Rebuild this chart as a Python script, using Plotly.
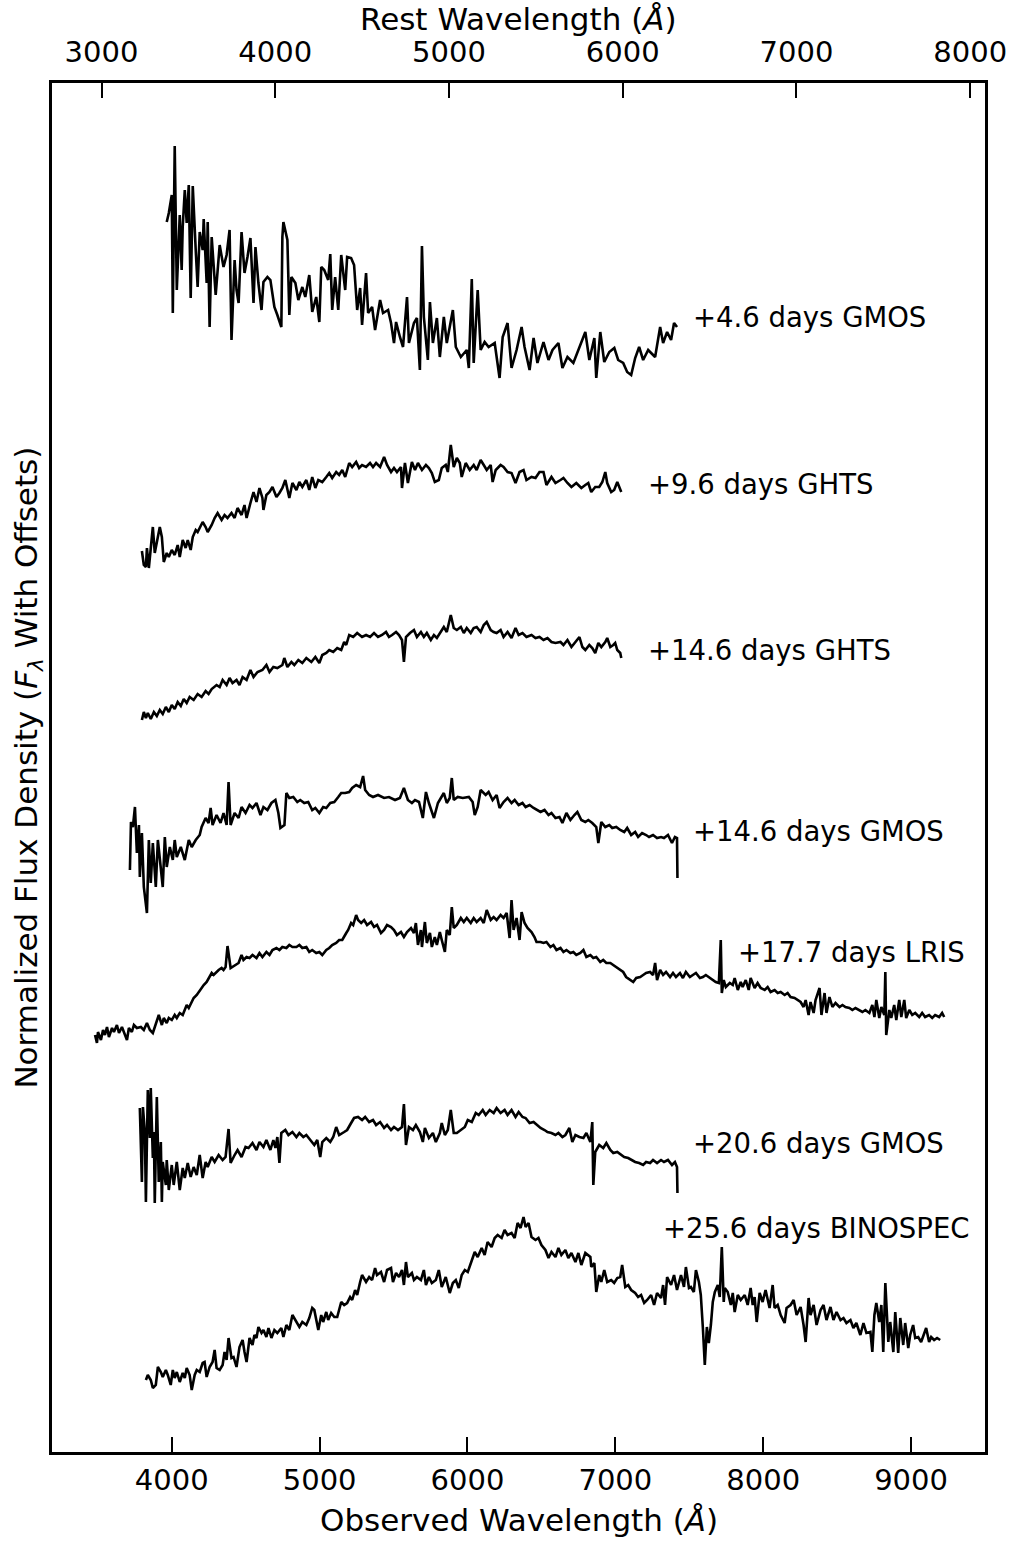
import plotly.graph_objects as go

# ---------------- data ----------------
REDSHIFT = 0.175
OBS_TICKS = [4000, 5000, 6000, 7000, 8000, 9000]
REST_TICKS = [3000, 4000, 5000, 6000, 7000, 8000]
LABELS = ["+4.6 days GMOS", "+9.6 days GHTS", "+14.6 days GHTS", "+14.6 days GMOS",
          "+17.7 days LRIS", "+20.6 days GMOS", "+25.6 days BINOSPEC"]
OFFSETS = [10, 8, 7, 5, 3.5, 2, 0]

# (observed wavelength [A], normalized flux)
SPEC_1 = [(3966,2.30),(3980,2.39),(4000,2.57),(4007,1.39),(4020,3.06),(4034,1.62),(4054,2.37),(4067,1.82),(4074,2.25),(4088,2.62),
(4101,2.29),(4115,2.67),(4128,1.54),(4142,2.66),(4162,2.02),(4175,1.65),(4189,2.20),(4209,2.02),(4216,2.33),(4236,1.69),
(4243,2.30),(4256,1.25),(4270,2.15),(4297,1.57),(4324,2.07),(4350,1.85),(4371,1.97),(4391,2.22),(4404,1.12),(4425,1.92),
(4438,1.62),(4452,1.49),(4472,2.20),(4492,1.79),(4512,1.95),(4532,2.14),(4553,1.49),(4566,2.05),(4586,1.69),(4607,1.42),
(4620,1.70),(4647,1.75),(4667,1.72),(4694,1.45),(4714,1.37),(4741,1.25),(4748,2.15),(4755,2.30),(4782,2.12),(4795,1.37),
(4809,1.75),(4836,1.69),(4856,1.52),(4883,1.65),(4903,1.55),(4930,1.77),(4950,1.40),(4977,1.55),(4998,1.30),(5011,1.85),
(5031,1.82),(5058,1.72),(5072,1.98),(5085,1.42),(5105,1.75),(5126,1.42),(5146,1.97),(5173,1.62),(5186,1.95),(5213,1.94),
(5233,1.87),(5254,1.42),(5274,1.64),(5287,1.27),(5314,1.79),(5328,1.39),(5355,1.45),(5375,1.22),(5409,1.52),(5429,1.39),
(5463,1.42),(5483,1.29),(5503,1.09),(5517,1.30),(5543,1.15),(5564,1.05),(5591,1.55),(5604,1.09),(5638,1.29),(5658,1.34),
(5678,0.82),(5692,2.06),(5705,1.35),(5732,0.92),(5746,1.50),(5766,1.09),(5793,1.34),(5813,0.95),(5840,1.35),(5860,1.09),
(5901,1.42),(5921,1.05),(5955,0.95),(5995,1.02),(6009,0.84),(6029,1.73),(6042,0.89),(6069,1.62),(6089,1.02),(6116,1.10),
(6143,1.05),(6184,1.09),(6217,0.74),(6238,1.15),(6271,1.29),(6298,0.84),(6332,1.02),(6366,1.25),(6386,1.05),(6420,0.82),
(6447,1.14),(6473,0.89),(6514,1.10),(6548,0.92),(6575,1.02),(6615,1.09),(6642,0.84),(6676,0.95),(6716,0.89),(6750,1.02),
(6797,1.20),(6824,0.92),(6858,1.14),(6871,0.74),(6898,1.20),(6925,0.90),(6959,1.00),(6993,1.04),(7019,0.92),(7053,0.89),
(7080,0.80),(7107,0.77),(7134,0.94),(7161,1.05),(7188,0.92),(7222,1.02),(7269,0.95),(7303,1.25),(7323,1.09),(7350,1.20),
(7377,1.12),(7397,1.29),(7417,1.25)]

SPEC_2 = [(3798,1.01),(3811,0.87),(3825,0.85),(3832,1.04),(3845,0.84),(3865,1.12),(3872,1.25),(3885,0.99),(3899,1.09),(3919,1.25),
(3933,1.15),(3946,0.90),(3966,0.99),(3980,0.95),(4000,1.02),(4020,0.97),(4040,1.07),(4054,0.95),(4074,1.12),(4094,1.04),
(4108,1.12),(4128,1.02),(4142,1.15),(4162,1.22),(4175,1.20),(4195,1.27),(4209,1.30),(4229,1.25),(4243,1.20),(4270,1.27),
(4290,1.34),(4310,1.39),(4337,1.32),(4357,1.37),(4377,1.34),(4404,1.39),(4425,1.34),(4445,1.44),(4472,1.37),(4492,1.47),
(4506,1.34),(4532,1.49),(4553,1.60),(4573,1.50),(4593,1.64),(4613,1.54),(4620,1.42),(4640,1.57),(4661,1.60),(4681,1.65),
(4708,1.55),(4728,1.59),(4748,1.64),(4768,1.72),(4782,1.64),(4795,1.54),(4816,1.69),(4843,1.62),(4863,1.70),(4883,1.65),
(4910,1.72),(4930,1.62),(4950,1.75),(4971,1.64),(4991,1.72),(5018,1.70),(5045,1.75),(5065,1.79),(5085,1.74),(5112,1.80),
(5132,1.77),(5153,1.82),(5173,1.75),(5200,1.89),(5220,1.85),(5247,1.90),(5267,1.84),(5287,1.87),(5314,1.85),(5341,1.89),
(5361,1.85),(5382,1.89),(5409,1.85),(5436,1.95),(5456,1.87),(5483,1.80),(5503,1.84),(5523,1.80),(5550,1.85),(5557,1.64),
(5577,1.89),(5597,1.69),(5624,1.90),(5645,1.82),(5665,1.89),(5692,1.82),(5719,1.87),(5739,1.84),(5759,1.79),(5779,1.70),
(5806,1.72),(5826,1.84),(5853,1.87),(5867,1.80),(5887,2.07),(5907,1.85),(5928,1.94),(5948,1.89),(5961,1.75),(5988,1.89),
(6015,1.82),(6042,1.87),(6062,1.82),(6089,1.92),(6110,1.87),(6130,1.82),(6157,1.87),(6170,1.70),(6191,1.82),(6224,1.87),
(6244,1.85),(6271,1.80),(6298,1.79),(6325,1.69),(6352,1.80),(6379,1.82),(6399,1.72),(6433,1.75),(6460,1.74),(6487,1.80),
(6514,1.80),(6534,1.67),(6568,1.75),(6595,1.69),(6629,1.72),(6649,1.74),(6676,1.69),(6703,1.65),(6736,1.69),(6770,1.64),
(6797,1.67),(6817,1.69),(6837,1.60),(6864,1.65),(6891,1.65),(6912,1.70),(6932,1.80),(6945,1.69),(6972,1.60),(6992,1.62),
(7013,1.70),(7040,1.60)]

SPEC_3 = [(3798,0.32),(3811,0.40),(3825,0.34),(3838,0.39),(3858,0.33),(3879,0.40),(3899,0.36),(3919,0.42),(3939,0.38),(3960,0.45),
(3980,0.40),(4000,0.47),(4020,0.43),(4040,0.50),(4061,0.46),(4081,0.53),(4101,0.49),(4121,0.55),(4148,0.52),(4175,0.58),
(4202,0.55),(4229,0.61),(4249,0.58),
(4270,0.63),(4303,0.67),(4324,0.65),(4344,0.72),(4371,0.67),(4391,0.74),(4411,0.69),(4438,0.72),(4458,0.67),(4479,0.75),
(4506,0.72),(4532,0.82),(4553,0.75),(4580,0.80),(4613,0.82),(4640,0.87),(4661,0.80),(4687,0.85),(4714,0.84),(4748,0.87),
(4761,0.94),(4782,0.85),(4809,0.90),(4829,0.87),(4856,0.92),(4883,0.89),(4910,0.94),(4944,0.90),(4971,0.95),(4998,0.89),
(5018,0.97),(5045,0.99),(5065,1.02),(5092,1.00),(5119,1.04),(5146,1.02),(5166,1.10),(5180,1.07),(5200,1.17),(5227,1.15),
(5254,1.19),(5287,1.15),(5314,1.17),(5341,1.15),(5368,1.19),(5395,1.15),(5422,1.17),(5449,1.20),(5469,1.15),(5490,1.17),
(5517,1.20),(5537,1.17),(5557,1.12),(5570,0.90),(5584,1.15),(5611,1.19),(5638,1.22),(5658,1.15),(5685,1.20),(5705,1.15),
(5725,1.19),(5752,1.12),(5773,1.17),(5793,1.14),(5820,1.20),(5840,1.25),(5860,1.20),(5887,1.37),(5907,1.24),(5928,1.22),
(5955,1.25),(5975,1.19),(5995,1.24),(6022,1.19),(6042,1.24),(6062,1.25),(6089,1.20),(6110,1.27),(6130,1.30),(6157,1.22),
(6177,1.20),(6197,1.19),(6224,1.22),(6244,1.15),(6271,1.20),(6298,1.14),(6325,1.24),(6346,1.17),(6372,1.19),(6399,1.15),
(6433,1.17),(6460,1.14),(6487,1.15),(6514,1.12),(6541,1.14),(6568,1.10),(6595,1.09),(6629,1.10),(6649,1.07),(6676,1.12),
(6703,1.05),(6730,1.10),(6757,1.15),(6777,1.05),(6797,1.02),(6824,1.07),(6844,1.04),(6864,0.99),(6885,1.09),(6905,1.05),
(6932,1.10),(6945,1.14),(6966,1.05),(6986,1.07),(6999,1.09),(7013,1.02),(7033,0.99),(7040,0.94)]

SPEC_4 = [(3717,0.82),(3724,1.30),(3737,1.25),(3751,1.45),(3764,0.99),(3778,1.27),(3784,0.75),(3798,1.19),(3811,0.65),(3832,0.39),
(3845,1.12),(3858,0.69),(3872,1.09),(3892,0.65),(3906,1.12),(3926,0.82),(3939,0.65),(3953,1.15),(3966,0.85),(3987,1.05),
(4007,0.92),(4020,1.12),(4034,0.95),(4061,1.05),(4088,0.92),(4115,1.12),(4135,1.05),(4162,1.12),(4189,1.17),(4202,1.25),
(4229,1.34),(4249,1.29),(4263,1.44),(4276,1.27),(4303,1.37),(4330,1.29),(4350,1.39),(4371,1.27),(4384,1.70),(4398,1.27),
(4425,1.39),(4452,1.34),(4472,1.45),(4499,1.39),(4526,1.47),(4546,1.44),(4573,1.49),(4600,1.37),(4620,1.45),(4647,1.42),
(4674,1.49),(4701,1.52),(4721,1.39),(4735,1.24),(4762,1.27),(4775,1.59),(4795,1.54),(4822,1.55),(4849,1.50),(4869,1.52),
(4896,1.49),(4923,1.50),(4950,1.42),(4971,1.44),(4998,1.39),(5024,1.45),(5045,1.44),(5072,1.49),(5099,1.50),(5126,1.55),
(5146,1.59),(5173,1.59),(5200,1.60),(5220,1.64),(5247,1.67),(5274,1.65),(5294,1.76),(5308,1.62),(5335,1.57),(5361,1.55),
(5395,1.57),(5436,1.54),(5469,1.55),(5510,1.52),(5543,1.54),(5570,1.64),(5597,1.52),(5624,1.49),(5645,1.52),(5672,1.50),
(5698,1.34),(5719,1.60),(5739,1.49),(5773,1.34),(5800,1.49),(5820,1.54),(5840,1.59),(5860,1.49),(5880,1.54),(5894,1.74),
(5907,1.52),(5934,1.55),(5968,1.54),(6009,1.55),(6035,1.50),(6049,1.37),(6069,1.45),(6089,1.62),(6123,1.57),(6143,1.60),
(6170,1.52),(6197,1.57),(6217,1.44),(6244,1.50),(6271,1.54),(6298,1.49),(6319,1.52),(6346,1.47),(6372,1.49),(6393,1.45),
(6420,1.47),(6447,1.44),(6473,1.42),(6494,1.40),(6521,1.42),(6548,1.37),(6568,1.39),(6595,1.34),(6622,1.35),(6642,1.29),
(6669,1.39),(6696,1.32),(6723,1.37),(6743,1.40),(6770,1.32),(6797,1.30),(6817,1.32),(6844,1.29),(6871,1.25),(6885,1.09),
(6905,1.30),(6932,1.25),(6959,1.27),(6979,1.24),(7006,1.25),(7033,1.22),(7060,1.20),(7080,1.24),(7107,1.17),(7134,1.20),
(7154,1.15),(7181,1.19),(7208,1.17),(7228,1.15),(7255,1.17),(7282,1.14),(7309,1.15),(7329,1.14),(7356,1.17),(7383,1.09),
(7403,1.15),(7417,1.14),(7420,0.74)]

SPEC_5 = [(3481,0.67),(3494,0.59),(3501,0.70),(3521,0.62),(3535,0.72),(3548,0.67),(3562,0.75),(3575,0.65),(3596,0.74),(3609,0.70),
(3629,0.77),(3643,0.69),(3663,0.75),(3676,0.70),(3697,0.62),(3710,0.74),(3730,0.70),(3744,0.77),(3764,0.74),(3791,0.75),
(3811,0.72),(3832,0.79),(3852,0.72),(3872,0.69),(3885,0.75),(3899,0.80),(3912,0.87),(3933,0.77),(3946,0.84),(3966,0.79),
(3980,0.84),(4000,0.82),(4020,0.87),(4034,0.84),(4054,0.89),(4074,0.87),(4088,0.92),(4101,0.97),(4115,0.94),(4135,1.00),
(4148,1.04),(4169,1.07),(4182,1.10),(4202,1.14),(4216,1.17),(4236,1.20),(4249,1.24),(4270,1.29),(4283,1.27),(4303,1.30),
(4317,1.32),(4337,1.34),(4350,1.32),(4364,1.35),(4377,1.56),(4398,1.34),(4411,1.35),(4431,1.37),(4452,1.39),(4472,1.47),
(4485,1.42),(4506,1.45),(4526,1.44),(4546,1.47),(4573,1.44),(4593,1.49),(4613,1.45),(4640,1.50),(4661,1.47),(4681,1.52),
(4708,1.54),(4728,1.52),(4748,1.55),(4775,1.54),(4795,1.57),(4816,1.55),(4843,1.55),(4863,1.57),(4883,1.54),(4910,1.55),
(4930,1.50),(4950,1.52),(4977,1.49),(4998,1.50),(5018,1.47),(5045,1.52),(5065,1.54),(5085,1.57),(5112,1.59),(5132,1.62),
(5153,1.62),(5180,1.69),(5193,1.72),(5213,1.79),(5227,1.77),(5247,1.87),(5260,1.82),(5281,1.79),(5301,1.82),(5321,1.77),
(5348,1.80),(5368,1.75),(5388,1.77),(5415,1.69),(5436,1.72),(5456,1.77),(5483,1.75),(5503,1.72),(5523,1.67),(5550,1.70),
(5570,1.65),(5591,1.70),(5618,1.74),(5638,1.69),(5651,1.79),(5665,1.57),(5685,1.72),(5692,1.55),(5712,1.80),(5725,1.59),
(5746,1.69),(5759,1.55),(5779,1.65),(5793,1.57),(5813,1.70),(5826,1.62),(5847,1.50),(5860,1.72),(5880,1.67),(5894,1.95),
(5907,1.74),(5928,1.77),(5955,1.84),(5975,1.80),(5995,1.84),(6022,1.79),(6042,1.84),(6062,1.80),(6089,1.84),(6110,1.79),
(6130,1.92),(6157,1.82),(6177,1.85),(6197,1.82),(6224,1.87),(6244,1.84),(6265,1.89),(6285,1.64),(6298,2.02),(6312,1.72),
(6332,1.84),(6352,1.62),(6366,1.90),(6386,1.79),(6406,1.74),(6433,1.70),(6453,1.65),(6467,1.60),
(6494,1.60),(6514,1.59),(6534,1.60),(6561,1.55),(6581,1.57),(6602,1.52),(6629,1.54),(6649,1.50),(6669,1.52),(6696,1.49),
(6716,1.50),(6736,1.47),(6763,1.49),(6784,1.52),(6804,1.45),(6831,1.47),(6851,1.44),(6871,1.45),(6898,1.40),(6918,1.42),
(6939,1.39),(6966,1.39),(6986,1.37),(7006,1.35),(7033,1.32),(7053,1.30),(7073,1.25),(7100,1.22),(7121,1.20),(7141,1.24),
(7168,1.25),(7188,1.27),(7208,1.29),(7235,1.30),(7255,1.27),(7269,1.39),(7282,1.22),(7303,1.32),(7323,1.27),(7343,1.30),
(7370,1.25),(7390,1.29),(7410,1.25),(7437,1.29),(7457,1.24),(7477,1.30),(7504,1.25),(7524,1.27),(7545,1.29),(7572,1.24),
(7592,1.25),(7612,1.27),(7639,1.24),(7659,1.22),(7679,1.20),(7700,1.19),(7713,1.62),(7720,1.09),(7733,1.22),(7747,1.15),
(7774,1.19),(7794,1.17),(7807,1.24),(7828,1.12),(7848,1.20),(7861,1.15),(7882,1.22),(7902,1.12),(7915,1.24),(7942,1.14),
(7962,1.19),(7983,1.14),(8010,1.12),(8030,1.15),(8050,1.10),(8077,1.12),(8098,1.09),(8118,1.10),(8145,1.07),(8165,1.09),
(8185,1.05),(8212,1.04),(8233,1.02),(8253,1.00),(8273,0.95),(8287,1.02),(8307,0.87),(8320,1.00),(8341,0.89),(8354,1.02),
(8381,1.14),(8394,0.87),(8415,1.09),(8428,0.89),(8448,1.05),(8468,0.95),(8489,0.99),(8516,0.95),(8536,0.97),(8556,0.95),
(8583,0.94),(8603,0.92),(8624,0.94),(8651,0.92),(8671,0.90),(8691,0.92),(8718,0.89),(8738,0.97),(8752,0.85),(8765,1.02),
(8785,0.84),(8799,0.95),(8819,0.87),(8826,1.30),(8832,0.67),(8853,0.92),(8866,0.84),(8886,0.97),(8900,0.82),(8920,1.02),
(8934,0.85),(8954,1.02),(8967,0.84),(8988,0.92),(9008,0.87),(9028,0.89),(9055,0.85),(9075,0.89),(9095,0.85),(9122,0.87),
(9143,0.84),(9163,0.87),(9190,0.85),(9210,0.89),(9224,0.85)]

SPEC_6 = [(3784,1.44),(3798,0.70),(3805,1.45),(3818,1.20),(3825,0.50),(3838,1.62),(3852,1.14),(3858,1.64),(3872,0.94),(3879,1.20),
(3885,0.49),(3899,1.55),(3912,0.70),(3926,1.10),(3933,0.50),(3939,0.90),(3960,0.67),(3966,0.92),(3980,0.62),(4000,0.87),
(4013,0.67),(4034,0.90),(4054,0.62),(4074,0.84),(4088,0.74),(4108,0.89),(4128,0.75),(4148,0.85),(4169,0.77),(4189,0.97),
(4209,0.74),(4229,0.90),(4243,0.85),(4270,0.95),(4290,0.90),(4317,0.97),(4344,0.92),(4364,0.95),(4384,1.23),(4398,0.89),
(4425,0.97),(4445,1.02),(4472,0.95),(4499,1.05),(4519,1.04),(4546,1.09),(4573,1.02),(4593,1.10),(4620,1.05),(4640,1.12),
(4667,1.02),(4687,1.12),(4701,1.04),(4714,1.15),(4728,0.89),(4741,1.19),(4768,1.22),(4789,1.17),(4816,1.20),(4843,1.15),
(4863,1.19),(4890,1.15),(4910,1.17),(4937,1.12),(4964,1.07),(4984,1.12),(5004,0.95),(5018,1.10),(5045,1.14),(5072,1.10),
(5092,1.15),(5112,1.25),(5132,1.17),(5166,1.20),(5186,1.22),(5213,1.29),(5233,1.34),(5260,1.35),(5287,1.32),(5308,1.35),
(5335,1.30),(5361,1.32),(5382,1.27),(5409,1.30),(5436,1.24),(5456,1.27),(5483,1.22),(5503,1.25),(5530,1.22),(5557,1.25),
(5570,1.48),(5584,1.07),(5604,1.25),(5631,1.22),(5651,1.27),(5678,1.20),(5698,1.10),(5712,1.24),(5739,1.14),(5766,1.19),
(5786,1.10),(5813,1.19),(5826,1.29),(5847,1.17),(5867,1.22),(5887,1.42),(5907,1.19),(5928,1.19),(5955,1.22),(5982,1.25),
(6002,1.32),(6029,1.30),(6056,1.39),(6076,1.37),(6103,1.42),(6123,1.37),(6150,1.42),(6177,1.39),(6197,1.44),(6224,1.39),
(6251,1.42),(6271,1.37),(6298,1.42),(6325,1.35),(6346,1.40),(6372,1.35),(6393,1.34),(6420,1.29),(6447,1.30),(6467,1.27),
(6494,1.24),(6521,1.22),(6541,1.20),(6568,1.19),(6595,1.17),(6615,1.19),(6642,1.15),(6662,1.17),(6689,1.24),(6709,1.10),
(6730,1.17),(6757,1.15),(6784,1.14),(6804,1.19),(6831,1.10),(6844,1.30),(6851,0.67),(6864,1.00),(6891,1.07),(6918,1.04),
(6939,1.09),(6966,1.02),(6986,0.99),(7013,1.00),(7040,0.97),(7060,0.95),(7087,0.94),(7114,0.92),(7134,0.90),(7161,0.89),
(7188,0.87),(7208,0.90),(7235,0.89),(7255,0.92),(7282,0.89),(7309,0.92),(7329,0.90),(7356,0.92),(7383,0.87),(7403,0.90),
(7417,0.85),(7420,0.59)]

SPEC_7 = [(3825,0.72),(3838,0.77),(3858,0.72),(3872,0.64),(3892,0.67),(3906,0.85),(3926,0.80),(3939,0.75),(3960,0.82),(3973,0.77),
(3993,0.67),(4007,0.82),(4020,0.74),(4034,0.80),(4054,0.70),(4074,0.79),(4088,0.74),(4101,0.84),(4121,0.77),(4135,0.62),
(4155,0.77),(4169,0.82),(4189,0.80),(4209,0.89),(4222,0.90),(4236,0.75),(4256,0.85),(4276,0.90),(4290,1.02),(4303,0.84),
(4324,0.82),(4344,0.87),(4357,1.00),(4371,0.92),(4384,1.14),(4404,0.94),(4418,0.95),(4438,0.85),(4458,1.05),(4479,1.12),
(4492,1.00),(4506,0.90),(4526,1.14),(4546,1.07),(4559,1.17),(4573,1.14),(4586,1.25),(4607,1.19),(4620,1.22),(4640,1.15),
(4654,1.24),(4674,1.14),(4694,1.22),(4714,1.19),(4741,1.24),(4755,1.15),(4775,1.27),(4795,1.22),(4816,1.37),(4843,1.30),
(4863,1.25),(4883,1.30),(4910,1.27),(4930,1.34),(4950,1.44),(4964,1.42),(4977,1.32),(4991,1.22),(5011,1.37),(5024,1.30),
(5045,1.40),(5058,1.32),(5078,1.39),(5099,1.35),(5119,1.35),(5146,1.50),(5166,1.47),(5186,1.49),(5206,1.55),(5220,1.52),
(5240,1.62),(5254,1.57),(5274,1.70),(5287,1.77),(5314,1.70),(5335,1.75),(5355,1.72),(5375,1.84),(5388,1.77),(5415,1.80),
(5436,1.70),(5456,1.82),(5483,1.84),(5496,1.70),(5517,1.79),(5537,1.75),(5557,1.82),(5570,1.67),(5584,1.90),(5597,1.75),
(5624,1.79),(5638,1.72),(5658,1.75),(5685,1.72),(5705,1.82),(5719,1.67),(5739,1.75),(5759,1.69),(5786,1.72),(5806,1.82),
(5826,1.65),(5853,1.75),(5880,1.59),(5901,1.69),(5921,1.72),(5941,1.64),(5961,1.77),(5982,1.82),(6002,1.80),(6029,1.92),
(6049,2.00),(6069,1.95),(6096,2.04),(6116,1.97),(6136,2.10),(6163,2.05),(6184,2.14),(6204,2.17),(6231,2.14),(6251,2.22),
(6271,2.17),(6298,2.19),(6319,2.14),(6339,2.29),(6359,2.24),(6379,2.35),(6393,2.25),(6413,2.29),(6433,2.15),(6460,2.12),
(6480,2.14),(6500,2.07),(6527,2.02),(6548,1.94),(6568,2.00),(6595,1.95),(6615,2.04),(6635,1.97),(6662,2.02),(6682,1.94),
(6703,1.99),(6730,1.90),(6750,1.99),(6770,1.87),(6797,1.99),
(6831,1.95),(6837,1.85),(6858,1.89),(6871,1.60),(6891,1.77),(6905,1.70),(6925,1.82),(6945,1.70),(6972,1.72),(6992,1.69),
(7013,1.74),(7033,1.75),(7046,1.87),(7067,1.65),(7087,1.67),(7107,1.62),(7134,1.59),(7154,1.55),(7174,1.57),(7195,1.49),
(7215,1.52),(7242,1.57),(7262,1.47),(7282,1.59),(7309,1.54),(7323,1.67),(7336,1.47),(7350,1.75),(7377,1.67),(7397,1.77),
(7417,1.62),(7444,1.77),(7464,1.65),(7477,1.85),(7498,1.64),(7511,1.65),(7531,1.60),(7545,1.82),(7565,1.70),(7578,1.57),
(7592,1.24),(7605,0.87),(7619,1.25),(7632,1.09),(7646,1.27),(7659,1.50),(7673,1.60),(7693,1.67),(7706,1.55),(7720,2.05),
(7733,1.50),(7740,1.64),(7760,1.60),(7781,1.47),(7794,1.59),(7807,1.40),(7828,1.57),(7848,1.52),(7875,1.57),(7895,1.47),
(7915,1.64),(7929,1.47),(7942,1.55),(7956,1.30),(7976,1.59),(7996,1.50),(8016,1.62),(8043,1.44),(8064,1.67),(8077,1.44),
(8098,1.47),(8118,1.37),(8145,1.29),(8158,1.44),(8185,1.47),(8206,1.52),(8226,1.37),(8253,1.45),(8273,1.27),(8287,1.10),
(8307,1.54),(8320,1.37),(8341,1.47),(8361,1.27),(8388,1.42),(8408,1.47),(8428,1.32),(8455,1.45),(8475,1.32),(8496,1.40),
(8523,1.32),(8543,1.34),(8563,1.29),(8590,1.32),(8610,1.24),(8630,1.29),(8657,1.17),(8678,1.29),(8698,1.19),(8725,1.20),
(8738,1.00),(8752,1.37),(8765,1.49),(8785,1.30),(8799,1.47),(8812,1.00),(8826,1.69),(8846,1.10),(8859,1.30),(8880,1.00),
(8893,1.40),(8913,0.99),(8927,1.34),(8947,1.07),(8960,1.29),(8981,1.04),(8994,1.17),(9014,1.27),(9028,1.14),(9048,1.15),
(9068,1.10),(9089,1.19),(9102,1.24),(9122,1.10),(9136,1.15),(9156,1.12),(9176,1.14),(9197,1.12)]

SPECTRA = [SPEC_1, SPEC_2, SPEC_3, SPEC_4, SPEC_5, SPEC_6, SPEC_7]

# ---------------- figure ----------------
FONT = "DejaVu Sans"
OBS_RANGE = [3190, 9500]
Y_RANGE = [0, 13.69]

fig = go.Figure()
for spec, off in zip(SPECTRA, OFFSETS):
    fig.add_trace(go.Scatter(
        x=[p[0] for p in spec], y=[p[1] + off for p in spec],
        mode="lines", line=dict(color="black", width=2.6),
        showlegend=False, hoverinfo="skip"))

# rest-frame axis carrier (invisible)
fig.add_trace(go.Scatter(
    x=[p[0] / (1 + REDSHIFT) for p in SPEC_1], y=[p[1] + OFFSETS[0] for p in SPEC_1],
    xaxis="x2", yaxis="y", mode="lines", line=dict(width=0), opacity=0,
    showlegend=False, hoverinfo="skip"))

# text labels next to each spectrum (observed wavelength, y)
label_pos = [(7512, 11.35), (7208, 9.68), (7208, 8.02), (7512, 6.21),
             (7815, 5.00), (7512, 3.09), (7309, 2.24)]
for txt, (lx, ly) in zip(LABELS, label_pos):
    fig.add_annotation(x=lx, y=ly, xref="x", yref="y", text=txt, showarrow=False,
                       xanchor="left", yanchor="middle",
                       font=dict(family=FONT, size=27.5, color="black"))

axis_common = dict(
    ticks="inside", ticklen=15, tickwidth=2, tickcolor="black",
    showline=True, linecolor="black", linewidth=2.5,
    showgrid=False, zeroline=False,
    tickfont=dict(family=FONT, size=29, color="black"),
)

fig.update_layout(
    width=1019, height=1542,
    margin=dict(l=52, r=31, t=83, b=90),
    paper_bgcolor="white", plot_bgcolor="white",
    xaxis=dict(range=OBS_RANGE, tickmode="array", tickvals=OBS_TICKS,
               ticktext=[str(v) for v in OBS_TICKS], **axis_common),
    xaxis2=dict(range=[OBS_RANGE[0] / (1 + REDSHIFT), OBS_RANGE[1] / (1 + REDSHIFT)],
                overlaying="x", side="top", tickmode="array", tickvals=REST_TICKS,
                ticktext=[str(v) for v in REST_TICKS], ticklabelstandoff=7,
                **axis_common),
    yaxis=dict(range=Y_RANGE, showticklabels=False, ticks="", showline=True,
               linecolor="black", linewidth=2.5, mirror=True,
               showgrid=False, zeroline=False),
)

# axis titles
fig.add_annotation(text="Observed Wavelength (<i>Å</i>)", xref="paper", yref="paper",
                   x=0.5, y=-0.0497, xanchor="center", yanchor="middle", showarrow=False,
                   font=dict(family=FONT, size=31, color="black"))
fig.add_annotation(text="Rest Wavelength (<i>Å</i>)", xref="paper", yref="paper",
                   x=0.5, y=1.0468, xanchor="center", yanchor="middle", showarrow=False,
                   font=dict(family=FONT, size=31, color="black"))
fig.add_annotation(text="Normalized Flux Density (<i>F</i><sub><i>λ</i></sub> With Offsets)",
                   xref="paper", yref="paper", x=-0.0256, y=0.5, textangle=-90,
                   xanchor="center", yanchor="middle", showarrow=False,
                   font=dict(family=FONT, size=31, color="black"))

fig.write_html("out.html", config={"displayModeBar": False},
               post_script="document.body.style.margin='0';")
